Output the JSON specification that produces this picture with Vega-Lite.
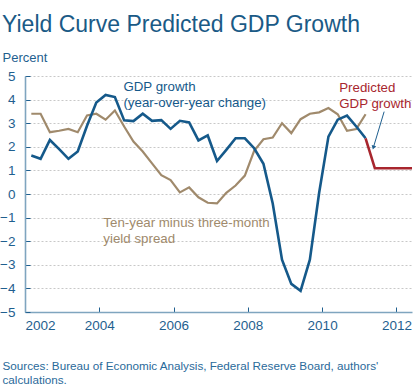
{
  "$schema": "https://vega.github.io/schema/vega-lite/v6.json",
  "width": 387,
  "height": 236,
  "autosize": "none",
  "padding": {"left": 25, "top": 76, "right": 8, "bottom": 77},
  "background": "white",
  "config": {
    "font": "Liberation Sans",
    "view": {"stroke": null},
    "axis": {
      "labelFont": "Liberation Sans",
      "titleFont": "Liberation Sans",
      "labelColor": "#1f5f8f",
      "titleColor": "#1f5f8f",
      "labelFontSize": 13.5,
      "domainColor": "#7fa5bf",
      "domainWidth": 1.6,
      "tickColor": "#1f5f8f",
      "tickWidth": 1,
      "tickSize": -5
    }
  },
  "title": {
    "text": "Yield Curve Predicted GDP Growth",
    "anchor": "start",
    "frame": "group",
    "dx": -23,
    "dy": 23,
    "fontSize": 23,
    "fontWeight": "normal",
    "color": "#1a5a86",
    "font": "Liberation Sans",
    "baseline": "alphabetic",
    "offset": 19
  },
  "datasets": {
    "series": [
      {"t": 2002.17, "value": 1.63, "series": "gdp"},
      {"t": 2002.42, "value": 1.49, "series": "gdp"},
      {"t": 2002.67, "value": 2.29, "series": "gdp"},
      {"t": 2002.92, "value": 1.90, "series": "gdp"},
      {"t": 2003.17, "value": 1.49, "series": "gdp"},
      {"t": 2003.42, "value": 1.80, "series": "gdp"},
      {"t": 2003.67, "value": 2.89, "series": "gdp"},
      {"t": 2003.92, "value": 3.88, "series": "gdp"},
      {"t": 2004.17, "value": 4.20, "series": "gdp"},
      {"t": 2004.42, "value": 4.11, "series": "gdp"},
      {"t": 2004.67, "value": 3.12, "series": "gdp"},
      {"t": 2004.92, "value": 3.09, "series": "gdp"},
      {"t": 2005.17, "value": 3.40, "series": "gdp"},
      {"t": 2005.42, "value": 3.10, "series": "gdp"},
      {"t": 2005.67, "value": 3.13, "series": "gdp"},
      {"t": 2005.92, "value": 2.76, "series": "gdp"},
      {"t": 2006.17, "value": 3.10, "series": "gdp"},
      {"t": 2006.42, "value": 3.03, "series": "gdp"},
      {"t": 2006.67, "value": 2.27, "series": "gdp"},
      {"t": 2006.92, "value": 2.48, "series": "gdp"},
      {"t": 2007.17, "value": 1.40, "series": "gdp"},
      {"t": 2007.42, "value": 1.87, "series": "gdp"},
      {"t": 2007.67, "value": 2.36, "series": "gdp"},
      {"t": 2007.92, "value": 2.36, "series": "gdp"},
      {"t": 2008.17, "value": 1.94, "series": "gdp"},
      {"t": 2008.42, "value": 1.28, "series": "gdp"},
      {"t": 2008.67, "value": -0.40, "series": "gdp"},
      {"t": 2008.92, "value": -2.78, "series": "gdp"},
      {"t": 2009.17, "value": -3.81, "series": "gdp"},
      {"t": 2009.42, "value": -4.10, "series": "gdp"},
      {"t": 2009.67, "value": -2.78, "series": "gdp"},
      {"t": 2009.92, "value": 0.05, "series": "gdp"},
      {"t": 2010.17, "value": 2.43, "series": "gdp"},
      {"t": 2010.42, "value": 3.15, "series": "gdp"},
      {"t": 2010.67, "value": 3.32, "series": "gdp"},
      {"t": 2010.92, "value": 2.86, "series": "gdp"},
      {"t": 2011.17, "value": 2.36, "series": "gdp"},
      {"t": 2002.17, "value": 3.40, "series": "spread"},
      {"t": 2002.42, "value": 3.40, "series": "spread"},
      {"t": 2002.67, "value": 2.62, "series": "spread"},
      {"t": 2002.92, "value": 2.68, "series": "spread"},
      {"t": 2003.17, "value": 2.76, "series": "spread"},
      {"t": 2003.42, "value": 2.62, "series": "spread"},
      {"t": 2003.67, "value": 3.33, "series": "spread"},
      {"t": 2003.92, "value": 3.40, "series": "spread"},
      {"t": 2004.17, "value": 3.15, "series": "spread"},
      {"t": 2004.42, "value": 3.54, "series": "spread"},
      {"t": 2004.67, "value": 2.86, "series": "spread"},
      {"t": 2004.92, "value": 2.22, "series": "spread"},
      {"t": 2005.17, "value": 1.80, "series": "spread"},
      {"t": 2005.42, "value": 1.30, "series": "spread"},
      {"t": 2005.67, "value": 0.80, "series": "spread"},
      {"t": 2005.92, "value": 0.59, "series": "spread"},
      {"t": 2006.17, "value": 0.07, "series": "spread"},
      {"t": 2006.42, "value": 0.28, "series": "spread"},
      {"t": 2006.67, "value": -0.14, "series": "spread"},
      {"t": 2006.92, "value": -0.37, "series": "spread"},
      {"t": 2007.17, "value": -0.40, "series": "spread"},
      {"t": 2007.42, "value": 0.05, "series": "spread"},
      {"t": 2007.67, "value": 0.36, "series": "spread"},
      {"t": 2007.92, "value": 0.78, "series": "spread"},
      {"t": 2008.17, "value": 1.83, "series": "spread"},
      {"t": 2008.42, "value": 2.32, "series": "spread"},
      {"t": 2008.67, "value": 2.39, "series": "spread"},
      {"t": 2008.92, "value": 3.00, "series": "spread"},
      {"t": 2009.17, "value": 2.58, "series": "spread"},
      {"t": 2009.42, "value": 3.17, "series": "spread"},
      {"t": 2009.67, "value": 3.40, "series": "spread"},
      {"t": 2009.92, "value": 3.46, "series": "spread"},
      {"t": 2010.17, "value": 3.64, "series": "spread"},
      {"t": 2010.42, "value": 3.38, "series": "spread"},
      {"t": 2010.67, "value": 2.68, "series": "spread"},
      {"t": 2010.92, "value": 2.75, "series": "spread"},
      {"t": 2011.17, "value": 3.38, "series": "spread"},
      {"t": 2011.17, "value": 2.36, "series": "pred"},
      {"t": 2011.42, "value": 1.09, "series": "pred"},
      {"t": 2011.67, "value": 1.09, "series": "pred"},
      {"t": 2011.92, "value": 1.09, "series": "pred"},
      {"t": 2012.17, "value": 1.09, "series": "pred"},
      {"t": 2012.42, "value": 1.09, "series": "pred"}
    ],
    "labels": [
      {"t": 2004.65, "value": 4.38, "series": "gdp", "label": "GDP growth\n(year-over-year change)"},
      {"t": 2004.11, "value": -1.41, "series": "spread", "label": "Ten-year minus three-month\nyield spread"},
      {"t": 2010.46, "value": 4.31, "series": "pred", "label": "Predicted\nGDP growth"}
    ],
    "arrow": [
      {"t": 2011.67, "value": 3.49, "t2": 2011.38, "value2": 1.97}
    ]
  },
  "layer": [
    {
      "data": {"values": [{"value": 0}]},
      "mark": {"type": "rule", "color": "#4d7c9e", "strokeWidth": 1.6},
      "encoding": {
        "y": {"field": "value", "type": "quantitative"}
      }
    },
    {
      "data": {"name": "series"},
      "transform": [{"filter": "datum.series === 'spread'"}],
      "mark": {"type": "line", "strokeWidth": 2.2},
      "encoding": {
        "x": {"field": "t", "type": "quantitative"},
        "y": {"field": "value", "type": "quantitative"},
        "color": {"field": "series", "type": "nominal", "scale": {"domain": ["gdp", "spread", "pred"], "range": ["#15598a", "#a08a6c", "#a8262e"]}, "legend": null}
      }
    },
    {
      "data": {"name": "series"},
      "transform": [{"filter": "datum.series === 'gdp'"}],
      "mark": {"type": "line", "strokeWidth": 2.6},
      "encoding": {
        "x": {"field": "t", "type": "quantitative"},
        "y": {"field": "value", "type": "quantitative"},
        "color": {"field": "series", "type": "nominal", "legend": null}
      }
    },
    {
      "data": {"name": "series"},
      "transform": [{"filter": "datum.series === 'pred'"}],
      "mark": {"type": "line", "strokeWidth": 2.6},
      "encoding": {
        "x": {"field": "t", "type": "quantitative"},
        "y": {"field": "value", "type": "quantitative"},
        "color": {"field": "series", "type": "nominal", "legend": null}
      }
    },
    {
      "data": {"name": "labels"},
      "mark": {"type": "text", "align": "left", "baseline": "alphabetic", "fontSize": 13.3, "lineHeight": 16, "lineBreak": "\n", "font": "Liberation Sans"},
      "encoding": {
        "x": {"field": "t", "type": "quantitative"},
        "y": {"field": "value", "type": "quantitative"},
        "text": {"field": "label"},
        "color": {"field": "series", "type": "nominal", "legend": null}
      }
    },
    {
      "data": {"name": "arrow"},
      "mark": {"type": "rule", "color": "#1f5f8f", "strokeWidth": 1},
      "encoding": {
        "x": {"field": "t", "type": "quantitative"},
        "y": {"field": "value", "type": "quantitative"},
        "x2": {"field": "t2"},
        "y2": {"field": "value2"}
      }
    },
    {
      "data": {"name": "arrow"},
      "mark": {"type": "point", "shape": "triangle-down", "filled": true, "opacity": 1, "size": 22, "angle": 16.6, "color": "#1f5f8f"},
      "encoding": {
        "x": {"field": "t2", "type": "quantitative"},
        "y": {"field": "value2", "type": "quantitative"}
      }
    }
  ],
  "encoding": {
    "x": {
      "field": "t",
      "type": "quantitative",
      "scale": {"domain": [2002, 2012.42], "nice": false, "zero": false},
      "axis": {
        "values": [2002, 2004, 2006, 2008, 2010, 2012],
        "format": "d",
        "grid": false,
        "labelPadding": 11,
        "title": ["Sources: Bureau of Economic Analysis, Federal Reserve Board, authors'", "calculations."],
        "titleFontSize": 11.7,
        "titleFontWeight": "normal",
        "titleColor": "#2a6a9a",
        "titleAnchor": "start",
        "titleAlign": "left",
        "titleBaseline": "alphabetic",
        "titleX": -23,
        "titleY": 57,
        "titleLineHeight": 14
      }
    },
    "y": {
      "field": "value",
      "type": "quantitative",
      "scale": {"domain": [-5, 5], "nice": false},
      "axis": {
        "values": [-5, -4, -3, -2, -1, 0, 1, 2, 3, 4, 5],
        "grid": true,
        "gridColor": "#c8c8c8",
        "gridDash": [2, 2],
        "gridWidth": 1,
        "labelPadding": 15,
        "title": "Percent",
        "titleAngle": 0,
        "titleFontSize": 13,
        "titleFontWeight": "normal",
        "titleColor": "#1f5f8f",
        "titleAlign": "left",
        "titleBaseline": "alphabetic",
        "titleX": -23,
        "titleY": -15
      }
    }
  }
}
